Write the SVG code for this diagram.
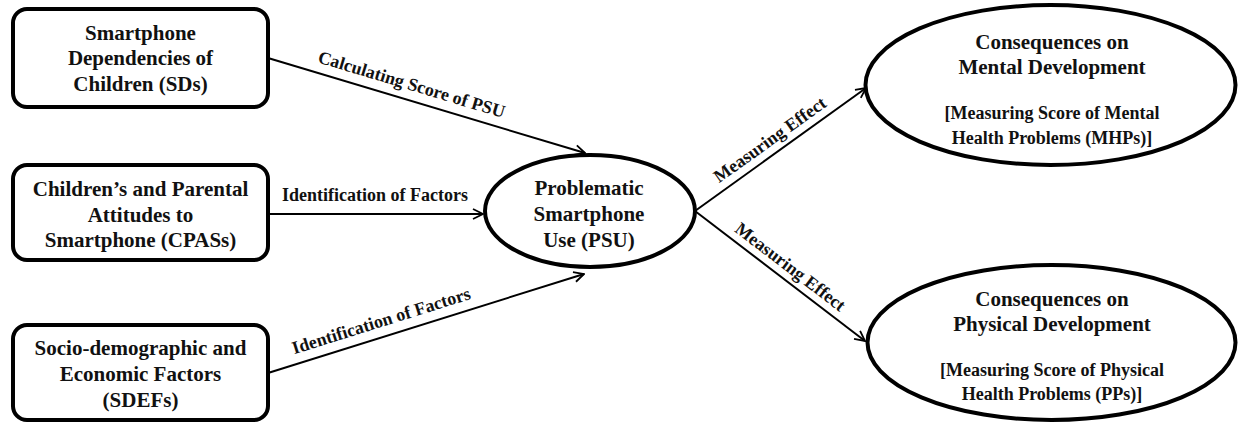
<svg xmlns="http://www.w3.org/2000/svg" width="1238" height="423" viewBox="0 0 1238 423">
<defs>
<style>
.box{fill:#fff;stroke:#000;stroke-width:4}
.t{font-family:"Liberation Serif","Times New Roman",serif;font-weight:bold;font-size:21px;fill:#111;text-anchor:middle}
.s{font-family:"Liberation Serif","Times New Roman",serif;font-weight:bold;font-size:18px;fill:#111;text-anchor:middle}
.c{fill:none;stroke:#000;stroke-width:2}
</style>
<marker id="arr" viewBox="0 0 12 12" refX="11" refY="6" markerWidth="12" markerHeight="12" orient="auto" markerUnits="userSpaceOnUse">
<path d="M1,1 L11,6 L1,11" fill="none" stroke="#000" stroke-width="1.8"/>
</marker>
</defs>
<rect width="1238" height="423" fill="#fff"/>
<g id="connectors">
<line class="c" x1="268" y1="58" x2="585" y2="153" marker-end="url(#arr)"/>
<line class="c" x1="268" y1="214" x2="483" y2="214" marker-end="url(#arr)"/>
<line class="c" x1="268" y1="373" x2="584" y2="274" marker-end="url(#arr)"/>
<line class="c" x1="695" y1="211" x2="866" y2="88" marker-end="url(#arr)"/>
<line class="c" x1="695" y1="211" x2="865" y2="341" marker-end="url(#arr)"/>
<text class="s" transform="translate(407,99.6) rotate(16.7)" y="-10">Calculating Score of PSU</text>
<text class="s" x="375" y="201">Identification of Factors</text>
<text class="s" transform="translate(386,336) rotate(-17.4)" y="-10">Identification of Factors</text>
<text class="s" transform="translate(778,151) rotate(-35.6)" y="-8">Measuring Effect</text>
<text class="s" transform="translate(782,278) rotate(37.4)" y="-8">Measuring Effect</text>
</g>
<g id="sds">
<rect class="box" x="13" y="9" width="255" height="98" rx="14"/>
<text class="t" x="140.5" y="40">Smartphone</text>
<text class="t" x="140.5" y="65">Dependencies of</text>
<text class="t" x="140.5" y="91">Children (SDs)</text>
</g>
<g id="cpass">
<rect class="box" x="13" y="165" width="255" height="95" rx="14"/>
<text class="t" x="140.5" y="196">Children’s and Parental</text>
<text class="t" x="140.5" y="222">Attitudes to</text>
<text class="t" x="140.5" y="247">Smartphone (CPASs)</text>
</g>
<g id="sdefs">
<rect class="box" x="13" y="325" width="255" height="95" rx="14"/>
<text class="t" x="140.5" y="355">Socio-demographic and</text>
<text class="t" x="140.5" y="381">Economic Factors</text>
<text class="t" x="140.5" y="407">(SDEFs)</text>
</g>
<g id="psu">
<ellipse class="box" cx="590" cy="211" rx="105" ry="56"/>
<text class="t" x="589" y="195">Problematic</text>
<text class="t" x="589" y="221">Smartphone</text>
<text class="t" x="589" y="247">Use (PSU)</text>
</g>
<g id="mental">
<ellipse class="box" cx="1050.5" cy="85" rx="185" ry="80"/>
<text class="t" x="1052" y="49">Consequences on</text>
<text class="t" x="1052" y="74">Mental Development</text>
<text class="s" x="1052" y="119">[Measuring Score of Mental</text>
<text class="s" x="1052" y="144">Health Problems (MHPs)]</text>
</g>
<g id="physical">
<ellipse class="box" cx="1051.5" cy="342.5" rx="184" ry="77.5"/>
<text class="t" x="1052" y="306">Consequences on</text>
<text class="t" x="1052" y="331">Physical Development</text>
<text class="s" x="1052" y="376">[Measuring Score of Physical</text>
<text class="s" x="1052" y="400">Health Problems (PPs)]</text>
</g>
</svg>
